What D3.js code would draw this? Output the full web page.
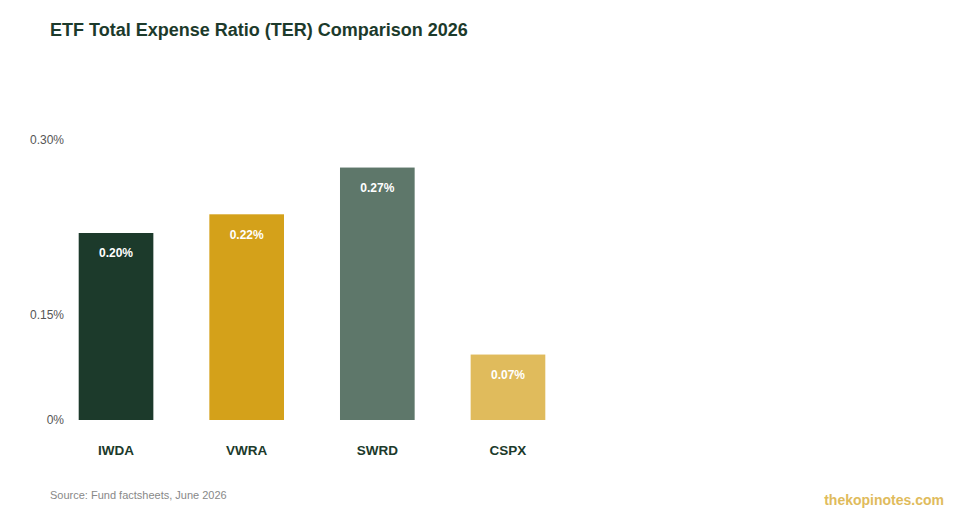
<!DOCTYPE html>
<html>
<head>
<meta charset="utf-8">
<script src="https://cdn.jsdelivr.net/npm/d3@7"></script>
<style>
  body { margin: 0; background: #fff; }
  text { font-family: "Liberation Sans", Arial, Helvetica, sans-serif; }
</style>
</head>
<body>
<div id="chart"></div>
<script>
// data
const funds = ["IWDA", "VWRA", "SWRD", "CSPX"];
const ter = [0.20, 0.22, 0.27, 0.07];
const barColors = ["#1c3a2b", "#d4a11a", "#5e776a", "#e0bb5c"];
const tickValues = [0, 0.15, 0.30];
const tickLabels = ["0%", "0.15%", "0.30%"];

let width = 960,
    height = 520;

const svg = d3.select("#chart")
      .append("svg")
      .attr("width", width)
      .attr("height", height);

const x = d3.scaleBand()
  .domain(funds)
  .range([50.7, 573.3])
  .paddingInner(3 / 7)
  .paddingOuter(3 / 14);

const y = d3.scaleLinear()
  .domain([0, 0.30])
  .range([420, 139.5]);

// the middle label sits lower than its value in the original
const yLabel = d3.scaleLinear()
  .domain(tickValues)
  .range([y(0), y(0.1125), y(0.30)]);

svg.append("text")
  .attr("x", 50)
  .attr("y", 36)
  .style("font-size", "18px")
  .style("font-weight", "bold")
  .style("fill", "#1c3a2b")
  .text("ETF Total Expense Ratio (TER) Comparison 2026");

svg.selectAll(".tick-label")
  .data(tickValues)
  .enter().append("text")
  .attr("class", "tick-label")
  .attr("x", 64)
  .attr("y", function (d) { return yLabel(d); })
  .attr("dy", "0.35em")
  .attr("text-anchor", "end")
  .style("font-size", "12px")
  .style("fill", "#555")
  .text(function (d, i) { return tickLabels[i]; });

let bars = svg.selectAll(".bar")
  .data(funds)
  .enter().append("g")
  .attr("class", "bar");

bars.append("rect")
  .attr("x", function (d) { return x(d); })
  .attr("y", function (d, i) { return y(ter[i]); })
  .attr("width", x.bandwidth())
  .attr("height", function (d, i) { return y(0) - y(ter[i]); })
  .style("fill", function (d, i) { return barColors[i]; });

bars.append("text")
  .attr("x", function (d) { return x(d) + x.bandwidth() / 2; })
  .attr("y", function (d, i) { return y(ter[i]) + 20; })
  .attr("dy", "0.35em")
  .attr("text-anchor", "middle")
  .style("font-size", "12px")
  .style("font-weight", "bold")
  .style("fill", "#fff")
  .text(function (d, i) { return ter[i].toFixed(2) + "%"; });

bars.append("text")
  .attr("x", function (d) { return x(d) + x.bandwidth() / 2; })
  .attr("y", 450)
  .attr("dy", "0.35em")
  .attr("text-anchor", "middle")
  .style("font-size", "13.5px")
  .style("font-weight", "bold")
  .style("fill", "#1c3a2b")
  .text(function (d) { return d; });

svg.append("text")
  .attr("x", 50)
  .attr("y", 499)
  .style("font-size", "11px")
  .style("fill", "#888")
  .text("Source: Fund factsheets, June 2026");

svg.append("text")
  .attr("x", 944)
  .attr("y", 505)
  .attr("text-anchor", "end")
  .style("font-size", "14px")
  .style("font-weight", "bold")
  .style("fill", "#e0bb5c")
  .text("thekopinotes.com");
</script>
</body>
</html>
